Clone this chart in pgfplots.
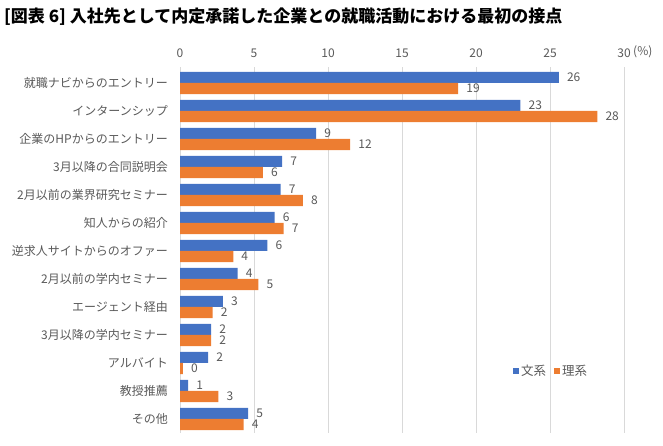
\documentclass[border=0pt]{standalone}
\usepackage{fontspec}
\setmainfont{Noto Sans CJK JP}
\usepackage{pgfplots}
\usepackage{pgfplotstable}
\pgfplotsset{compat=1.18}
\definecolor{bbl}{HTML}{4472C4}
\definecolor{bor}{HTML}{ED7D31}
\definecolor{txt}{HTML}{595959}
\definecolor{grd}{HTML}{D9D9D9}

\pgfplotstableread{
y val lab
12 25.6 26
11 23.0 23
10 9.2 9
9 6.9 7
8 6.8 7
7 6.4 6
6 5.9 6
5 3.9 4
4 2.9 3
3 2.1 2
2 1.9 2
1 0.55 1
0 4.6 5
}\bunkei
\pgfplotstableread{
y val lab
12 18.8 19
11 28.2 28
10 11.5 12
9 5.6 6
8 8.3 8
7 7.0 7
6 3.6 4
5 5.3 5
4 2.2 2
3 2.1 2
2 0.2 0
1 2.6 3
0 4.3 4
}\rikei

\begin{document}
\begin{tikzpicture}
\path[use as bounding box] (0,0) rectangle (663pt,446pt);
\node[anchor=west, inner sep=0pt, font=\fontsize{17}{19}\selectfont\bfseries] at (4pt,429pt) {[図表 6] 入社先として内定承諾した企業との就職活動における最初の接点};
\begin{axis}[
 at={(180pt,13pt)}, anchor=south west,
 width=444pt, height=366pt, scale only axis,
 xmin=0, xmax=30, ymin=-0.5, ymax=12.57,
 xtick={0,5,...,30}, ytick={0,...,12},
 yticklabels={その他,教授推薦,アルバイト,3月以降の学内セミナー,エージェント経由,2月以前の学内セミナー,逆求人サイトからのオファー,知人からの紹介,2月以前の業界研究セミナー,3月以降の合同説明会,企業のHPからのエントリー,インターンシップ,就職ナビからのエントリー},
 axis x line*=top, axis y line*=left,
 x axis line style={draw=none}, y axis line style={draw=grd, line width=0.8pt, -},
 xmajorgrids, grid style={grd, line width=0.8pt},
 major tick length=0pt,
 tick label style={text=txt},
 xticklabel style={font=\fontsize{12}{13}\selectfont, inner sep=0pt, anchor=south, yshift=9pt},
 yticklabel style={font=\fontsize{12}{14}\selectfont, inner sep=0pt, anchor=east, xshift=-12pt},
 /pgf/number format/assume math mode=true,
 xbar, bar width=0.4,
 nodes near coords, point meta=explicit symbolic,
 every node near coord/.style={anchor=west, inner sep=0pt, font=\fontsize{12}{12}\selectfont, text=txt, xshift=8pt},
 legend style={at={(axis cs:25.07,1.7)}, anchor=center, draw=none, fill=none, legend columns=2, font=\fontsize{12.5}{14}\selectfont, text=txt, /tikz/every even column/.append style={column sep=6pt}},
 legend image code/.code={\fill[#1] (0pt,-3pt) rectangle (6pt,3pt);},
 clip=false,
]
\addplot[fill=bbl, draw=none, bar shift=0.2, every node near coord/.append style={yshift=5.6pt}] table[x=val, y=y, meta=lab] {\bunkei};
\addplot[fill=bor, draw=none, bar shift=-0.2, every node near coord/.append style={yshift=-5.6pt}] table[x=val, y=y, meta=lab] {\rikei};
\legend{文系,理系}
\node[anchor=south west, inner sep=0pt, font=\fontsize{12}{13}\selectfont, text=txt] at (rel axis cs:1,1) [xshift=9pt, yshift=9pt] {(\%)};
\end{axis}
\end{tikzpicture}
\end{document}
